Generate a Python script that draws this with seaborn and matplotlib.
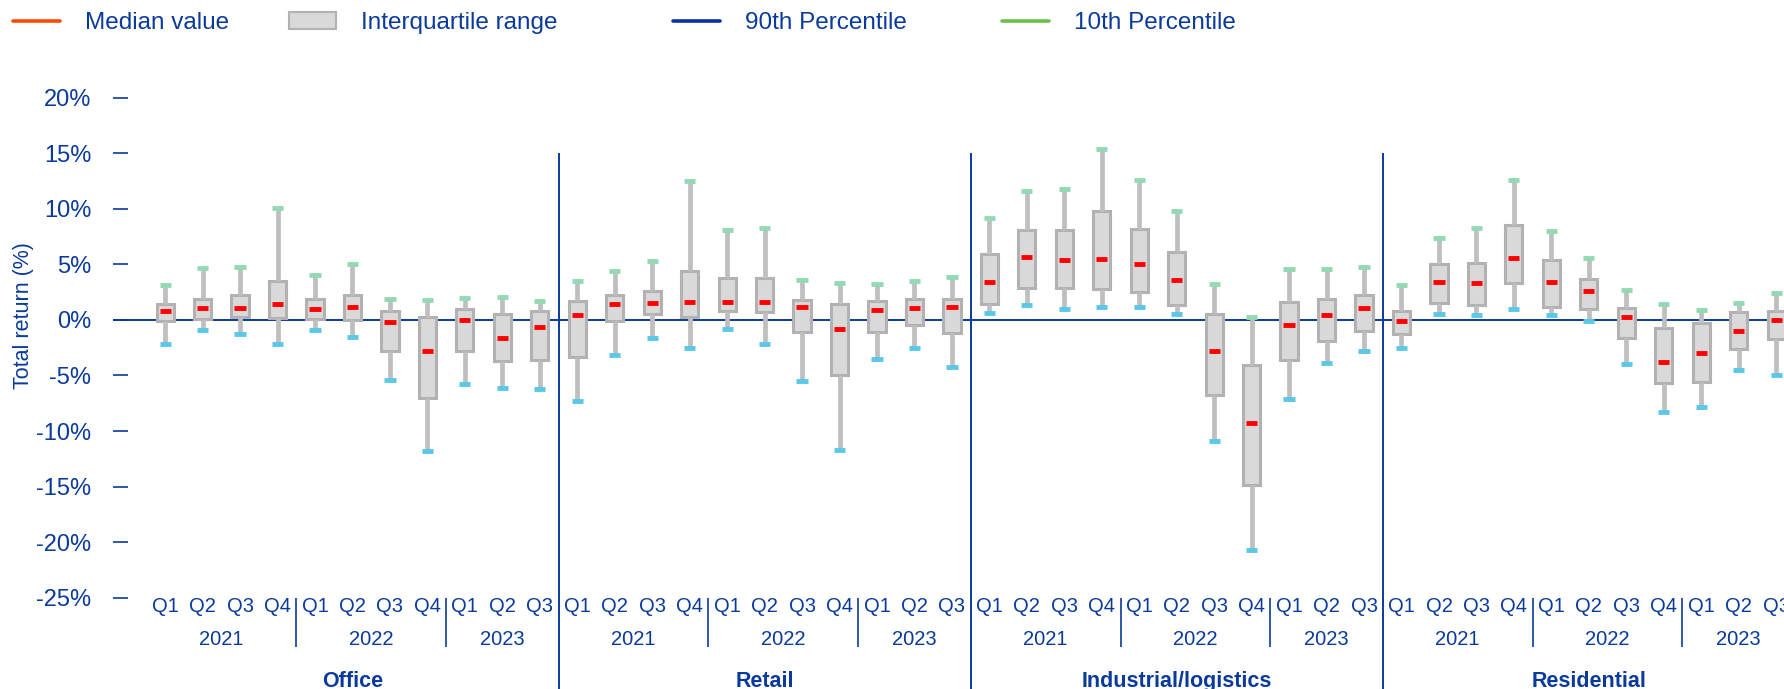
import numpy as np
import pandas as pd
import seaborn as sns
import matplotlib.pyplot as plt
from matplotlib.lines import Line2D
from matplotlib.patches import Patch

# categories
sectors = ["Office", "Retail", "Industrial/logistics", "Residential"]
quarters = ["Q1", "Q2", "Q3", "Q4", "Q1", "Q2", "Q3", "Q4", "Q1", "Q2", "Q3"]
quarter_years = ["2021"] * 4 + ["2022"] * 4 + ["2023"] * 3
y_ticks = [-25, -20, -15, -10, -5, 0, 5, 10, 15, 20]

# total return (%) - upper whisker, upper quartile, median, lower quartile, lower whisker
office_hi = [3.1, 4.7, 4.8, 10.1, 4.0, 5.0, 1.9, 1.8, 2.0, 2.1, 1.7]
office_q3 = [1.4, 1.9, 2.2, 3.5, 1.9, 2.2, 0.8, 0.3, 1.0, 0.5, 0.8]
office_med = [0.8, 1.1, 1.1, 1.4, 1.0, 1.2, -0.2, -2.8, 0.0, -1.6, -0.6]
office_q1 = [-0.1, 0.1, 0.3, 0.2, 0.1, 0.0, -2.8, -7.0, -2.8, -3.7, -3.6]
office_lo = [-2.2, -0.9, -1.3, -2.2, -0.9, -1.5, -5.4, -11.8, -5.8, -6.1, -6.2]

retail_hi = [3.5, 4.4, 5.3, 12.5, 8.1, 8.3, 3.6, 3.3, 3.2, 3.5, 3.9]
retail_q3 = [1.7, 2.2, 2.6, 4.4, 3.8, 3.8, 1.8, 1.4, 1.7, 1.9, 1.9]
retail_med = [0.4, 1.4, 1.5, 1.6, 1.6, 1.6, 1.2, -0.8, 0.9, 1.1, 1.2]
retail_q1 = [-3.3, -0.1, 0.5, 0.3, 0.8, 0.7, -1.1, -5.0, -1.1, -0.5, -1.2]
retail_lo = [-7.3, -3.2, -1.6, -2.5, -0.8, -2.2, -5.5, -11.7, -3.5, -2.5, -4.2]

industrial_hi = [9.2, 11.6, 11.8, 15.4, 12.6, 9.8, 3.2, 0.3, 4.6, 4.6, 4.8]
industrial_q3 = [5.9, 8.1, 8.1, 9.8, 8.2, 6.1, 0.5, -4.1, 1.6, 1.9, 2.2]
industrial_med = [3.4, 5.7, 5.4, 5.5, 5.0, 3.6, -2.8, -9.3, -0.5, 0.4, 1.1]
industrial_q1 = [1.4, 2.9, 2.9, 2.8, 2.5, 1.3, -6.8, -14.9, -3.6, -1.9, -1.0]
industrial_lo = [0.6, 1.3, 1.0, 1.2, 1.2, 0.5, -10.9, -20.7, -7.1, -3.9, -2.8]

residential_hi = [3.1, 7.4, 8.3, 12.6, 8.0, 5.6, 2.7, 1.4, 0.9, 1.5, 2.4]
residential_q3 = [0.8, 5.0, 5.1, 8.5, 5.4, 3.7, 1.1, -0.7, -0.3, 0.7, 0.8]
residential_med = [-0.1, 3.4, 3.3, 5.6, 3.4, 2.6, 0.3, -3.8, -3.0, -1.0, 0.0]
residential_q1 = [-1.3, 1.5, 1.3, 3.3, 1.2, 1.0, -1.6, -5.7, -5.6, -2.6, -1.7]
residential_lo = [-2.5, 0.5, 0.4, 1.0, 0.4, -0.1, -4.0, -8.3, -7.8, -4.5, -5.0]

NAVY = "#0a3a9c"
BOX_FACE = "#d9d9d9"
BOX_EDGE = "#b2b2b2"
WHISKER = "#bfbfbf"
MEDIAN = "#ff0000"
CAP_HIGH = "#93d9b4"
CAP_LOW = "#5ac8e6"

# five points per box: with whis=(0, 100) the box plot reproduces the given stats
sector_stats = [
    (office_lo, office_q1, office_med, office_q3, office_hi),
    (retail_lo, retail_q1, retail_med, retail_q3, retail_hi),
    (industrial_lo, industrial_q1, industrial_med, industrial_q3, industrial_hi),
    (residential_lo, residential_q1, residential_med, residential_q3, residential_hi),
]
rows = []
for sector, stats in zip(sectors, sector_stats):
    for i in range(len(quarters)):
        slot = f"{sector} {quarter_years[i]} {quarters[i]}"
        for s in stats:
            rows.append({"slot": slot, "value": s[i]})
df = pd.DataFrame(rows)
order = list(dict.fromkeys(df["slot"]))

sns.set_theme(style="white")
plt.rcParams["font.family"] = ["Liberation Sans", "DejaVu Sans"]

W, H = 1784, 689
fig = plt.figure(figsize=(W / 100, H / 100), dpi=100)
ax_left, ax_top, ax_bottom = 112.7, 97.7, 597.7
ax = fig.add_axes([ax_left / W, 1 - ax_bottom / H, 1 - ax_left / W, (ax_bottom - ax_top) / H])

sns.boxplot(data=df, x="slot", y="value", order=order, whis=(0, 100), width=0.46,
            color=BOX_FACE, saturation=1, linecolor=BOX_EDGE, linewidth=2.2,
            showfliers=False,
            whiskerprops={"color": WHISKER, "linewidth": 3.4},
            capprops={"linewidth": 3.5, "solid_capstyle": "butt"},
            medianprops={"color": MEDIAN, "linewidth": 3.5, "solid_capstyle": "butt"},
            ax=ax)

bp = ax.containers[0]
for cap in bp.caps[0::2]:
    cap.set_color(CAP_LOW)
for cap in bp.caps[1::2]:
    cap.set_color(CAP_HIGH)
for line in list(bp.caps) + list(bp.medians):
    c = np.mean(line.get_xdata())
    line.set_xdata([c - 0.15, c + 0.15])
    line.set_zorder(3)

ax.axhline(0, color=NAVY, lw=1.4, zorder=1)

ax.set_ylim(-25, 20)
ax.set_xlim(-1.40, 43.21)
ax.set_yticks(y_ticks)
ax.set_yticklabels([f"{v}%" for v in y_ticks])
ax.tick_params(axis="y", direction="in", length=11, width=1.2, color=NAVY,
               labelcolor=NAVY, labelsize=17, pad=15.5, left=True)
ax.set_xticks([])
ax.set_xlabel("")
for sp in ax.spines.values():
    sp.set_visible(False)
ax.set_ylabel("Total return (%)", color=NAVY, fontsize=15.5)
ax.yaxis.set_label_coords(-0.047, 0.565)

# category labels under the plot
n_q = len(quarters)
for k, sector in enumerate(sectors):
    base = k * n_q
    for i, q in enumerate(quarters):
        ax.text(base + i, -25.8, q, ha="center", va="center", color=NAVY,
                fontsize=14.5, clip_on=False)
    for yr in ["2021", "2022", "2023"]:
        idx = [base + i for i, y in enumerate(quarter_years) if y == yr]
        ax.text(np.mean(idx), -28.75, yr, ha="center", va="center", color=NAVY,
                fontsize=14.5, clip_on=False)
        if yr != "2021":
            ax.vlines(idx[0] - 0.5, -29.4, -25, color=NAVY, lw=1.2, clip_on=False)
    ax.text(base + (n_q - 1) / 2, -32.5, sector, ha="center", va="center",
            color=NAVY, fontsize=15.5, fontweight="bold", clip_on=False)
    if k > 0:
        ax.vlines(base - 0.5, -34, 15, color=NAVY, lw=1.4, clip_on=False)

# legend, one entry per slot across the top
legend_items = [
    (Line2D([], [], color="#ff4b00", lw=2.6), "Median value", 13),
    (Patch(facecolor=BOX_FACE, edgecolor=BOX_EDGE, lw=1.5), "Interquartile range", 289),
    (Line2D([], [], color="#0b31a5", lw=2.6), "90th Percentile", 673),
    (Line2D([], [], color="#6cc04a", lw=2.6), "10th Percentile", 1002),
]
for handle, label, x_px in legend_items:
    fig.legend([handle], [label], loc="center left", bbox_to_anchor=(x_px / W, 1 - 23 / H),
               frameon=False, fontsize=17.5, labelcolor=NAVY, handlelength=1.95,
               handletextpad=1.0, borderpad=0, borderaxespad=0)

fig.savefig("out.png", dpi=100)
